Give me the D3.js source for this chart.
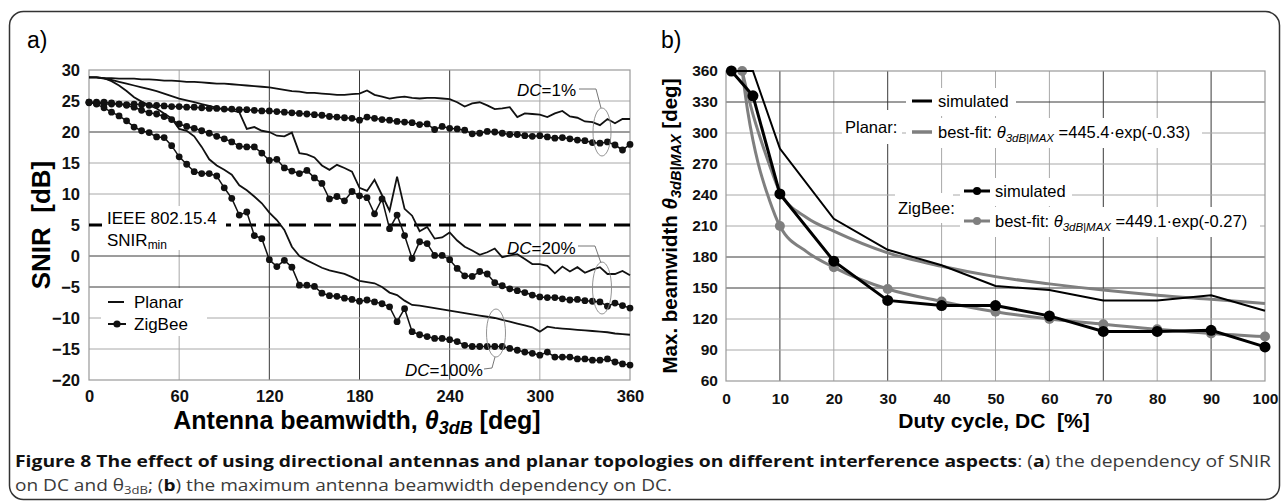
<!DOCTYPE html>
<html>
<head>
<meta charset="utf-8">
<script src="https://cdn.jsdelivr.net/npm/d3@7"></script>
<style>
  html, body { margin: 0; padding: 0; background: #fff; }
  svg { display: block; font-family: "Liberation Sans", Arial, sans-serif; }
</style>
</head>
<body>
<div id="chart"></div>
<script>
// ---- panel a data: SNIR [dB] vs antenna beamwidth [deg]
const beamwidth = [0,5,10,15,20,25,30,35,40,45,50,55,60,65,70,75,80,85,90,95,100,105,110,115,
  120,125,130,135,140,145,150,155,160,165,170,175,180,185,190,195,200,205,210,215,220,225,230,235,
  240,245,250,255,260,265,270,275,280,285,290,295,300,305,310,315,320,325,330,335,340,345,350,355,360];

const planar1 = [28.8,28.8,28.7,28.7,28.6,28.6,28.6,28.5,28.5,28.4,28.3,28.3,
  28.2,28.1,28.1,28.0,27.9,27.8,27.8,27.7,27.6,27.5,27.4,27.3,
  27.2,27.0,26.8,26.6,26.5,26.3,26.3,26.2,26.1,26.0,26.0,26.1,
  26.2,26.7,26.0,25.7,25.4,25.6,25.7,25.5,25.4,25.5,25.5,25.4,
  25.3,24.8,24.1,24.6,24.8,24.3,23.7,23.8,24.0,22.4,23.0,22.9,
  22.8,22.4,23.0,23.4,22.5,22.3,21.7,21.6,21.1,22.1,21.4,22.1,22.1];

const zigbee1 = [24.7,24.6,24.5,24.5,24.5,24.4,24.5,24.4,24.3,24.3,24.2,24.1,
  24.1,24.0,24.0,23.9,23.8,23.8,23.7,23.7,23.6,23.6,23.5,23.4,
  23.4,23.3,23.2,23.1,23.0,22.9,22.8,22.7,22.5,22.4,22.3,22.2,
  21.9,22.4,22.2,22.0,21.9,21.7,21.6,21.5,21.2,21.3,20.4,20.9,
  20.6,20.5,20.3,19.7,19.8,20.1,20.0,19.8,19.6,19.6,19.4,19.3,
  19.4,19.2,19.0,19.1,18.9,18.7,18.6,18.3,18.2,18.4,17.9,17.1,18.0];

const planar20 = [28.8,28.8,28.6,28.4,28.1,27.8,27.5,27.2,26.9,26.6,26.2,25.8,
  25.4,25.1,24.8,24.5,24.2,23.9,23.7,23.5,23.2,20.5,20.8,20.2,
  20.0,19.4,19.3,19.9,16.6,16.4,15.9,14.6,13.9,14.7,14.2,13.6,
  11.0,10.5,12.3,9.8,7.3,12.8,7.6,6.5,4.0,4.7,2.8,3.0,
  3.8,2.5,1.5,0.9,0.2,0.6,1.2,-0.2,0.1,0.3,-0.5,-1.3,
  -1.3,-1.6,-2.8,-1.7,-2.5,-1.8,-2.7,-2.2,-1.8,-2.9,-2.9,-2.4,-3.1];

const zigbee20 = [24.8,24.8,24.8,24.7,24.5,24.3,24.0,23.5,23.1,22.9,22.5,22.0,
  21.3,20.9,20.6,20.2,19.8,19.3,18.9,18.4,17.7,17.6,17.6,16.6,
  15.4,15.6,14.2,13.7,13.3,13.8,12.6,11.7,9.2,9.6,8.9,10.4,
  9.7,9.4,6.8,9.2,4.4,6.6,3.3,-0.4,2.3,2.0,0.1,0.1,
  -0.6,-2.0,-3.2,-3.3,-2.5,-2.9,-4.3,-4.8,-5.3,-5.6,-5.9,-6.3,
  -6.6,-6.7,-6.7,-6.9,-7.1,-7.0,-7.2,-7.3,-7.4,-8.1,-7.6,-8.0,-8.4];

const planar100 = [28.8,28.8,28.7,28.2,27.5,26.6,25.6,24.9,24.3,23.8,23.0,22.2,
  20.5,20.2,19.3,17.6,15.6,14.6,13.9,13.1,11.4,10.6,9.6,8.5,
  7.0,5.8,4.2,1.5,0.0,-0.7,-1.3,-1.9,-2.3,-2.6,-2.9,-3.4,
  -4.0,-4.2,-4.4,-5.0,-5.9,-6.3,-7.2,-7.9,-8.0,-8.2,-8.4,-8.6,
  -8.8,-9.0,-9.2,-9.4,-9.6,-9.8,-10.0,-10.3,-10.6,-10.9,-11.2,-11.5,
  -12.2,-11.4,-11.6,-11.7,-11.8,-11.9,-12.0,-12.1,-12.2,-12.3,-12.5,-12.6,-12.7];

const zigbee100 = [24.8,24.5,23.9,23.2,22.6,21.8,20.8,20.2,19.9,19.2,19.1,17.8,
  16.0,14.8,13.6,13.3,13.3,12.9,11.0,9.3,6.6,7.1,3.3,2.8,
  -0.6,-1.7,-0.7,-1.8,-4.7,-4.7,-4.9,-6.0,-6.4,-6.5,-6.8,-7.0,
  -7.3,-7.1,-7.4,-7.7,-8.2,-10.6,-8.5,-12.2,-12.7,-13.0,-13.3,-13.3,
  -13.5,-13.8,-14.4,-14.6,-14.6,-14.6,-14.6,-14.6,-14.9,-15.2,-15.5,-15.7,
  -16.0,-15.5,-16.3,-16.3,-16.3,-16.6,-16.6,-16.8,-16.8,-16.6,-17.1,-17.4,-17.6];

const snirTicks = [30,25,20,15,10,5,0,-5,-10,-15,-20];
const beamTicks = [0,60,120,180,240,300,360];
const snirMin = 5;

// ---- panel b data: max beamwidth [deg] vs duty cycle [%]
const dutyCycle = [1,5,10,20,30,40,50,60,70,80,90,100];
const planarSim = [360,360,285,217,187,172,152,148,138,138,143,128];
const zigbeeSim = [360,336,241,176,138,133,133,123,108,108,109,93];

const fitDC = [3,4,5,6,8,10,15,20,30,40,50,60,70,80,90,100];
const planarFit = [360,338,318,301,270,243,218,205,184,171,161,154,148,143,139,135];
const zigbeeFit = [360,322,293,270,236,210,185,170,149,137,127,120,115,110,106,103];
const zigbeeFitMarkDC = [3,10,20,30,40,50,60,70,80,90,100];

const beamMaxTicks = [360,330,300,270,240,210,180,150,120,90,60];
const dcTicks = [0,10,20,30,40,50,60,70,80,90,100];

const W = 1285, H = 504;
const FONT = '"Liberation Sans", Arial, sans-serif';
const GRID_DARK = '#3a3a3a', GRID_LIGHT = '#a8a8a8';

const svg = d3.select('#chart').append('svg')
    .attr('width', W).attr('height', H);

// outer frame
svg.append('rect')
    .attr('x', 9.5).attr('y', 11.5).attr('width', 1270).attr('height', 488)
    .attr('rx', 14).attr('fill', 'none').attr('stroke', '#333').attr('stroke-width', 1.5);

// helper: theta with subscript
function addTheta(text, sub, subSize, dy) {
    text.append('tspan').attr('font-style', 'italic').text('θ');
    text.append('tspan').attr('font-style', 'italic').attr('font-size', subSize)
        .attr('dy', dy).text(sub);
    return text.append('tspan').attr('dy', -dy);
}

// ================= panel a =================
const a = { left: 89, top: 70, right: 630, bottom: 380 };
const xA = d3.scaleLinear().domain([0, 360]).range([a.left, a.right]);
const yA = d3.scaleLinear().domain([-20, 30]).range([a.bottom, a.top]);
const gA = svg.append('g');

gA.append('text').attr('x', 27).attr('y', 48).attr('font-size', 23).text('a)');

// grid
const darkBeam = new Set([120, 180, 240]);
gA.selectAll('.vgrid').data(beamTicks.filter(d => d > 0 && d < 360)).join('line')
    .attr('x1', d => xA(d)).attr('x2', d => xA(d))
    .attr('y1', a.top).attr('y2', a.bottom)
    .attr('stroke', d => darkBeam.has(d) ? GRID_DARK : GRID_LIGHT).attr('stroke-width', 1);
const darkSnir = new Set([20, 0, -5]);
gA.selectAll('.hgrid').data(snirTicks.filter(d => d > -20 && d < 30 && d !== snirMin)).join('line')
    .attr('x1', a.left).attr('x2', a.right)
    .attr('y1', d => yA(d)).attr('y2', d => yA(d))
    .attr('stroke', d => darkSnir.has(d) ? GRID_DARK : GRID_LIGHT).attr('stroke-width', 1);
gA.append('rect').attr('x', a.left).attr('y', a.top)
    .attr('width', a.right - a.left).attr('height', a.bottom - a.top)
    .attr('fill', 'none').attr('stroke', '#999').attr('stroke-width', 1.2);

// SNIR min threshold
gA.append('line')
    .attr('x1', a.left).attr('x2', a.right)
    .attr('y1', yA(snirMin)).attr('y2', yA(snirMin))
    .attr('stroke', '#000').attr('stroke-width', 3).attr('stroke-dasharray', '17 8');

// white boxes behind labels
gA.append('rect').attr('x', 102).attr('y', 206).attr('width', 124).attr('height', 44).attr('fill', '#fff');
gA.append('rect').attr('x', 101).attr('y', 288).attr('width', 106).attr('height', 48).attr('fill', '#fff');

// series
const lineA = d3.line().x((d, i) => xA(beamwidth[i])).y(d => yA(d));
[planar1, planar20, planar100].forEach(s => {
    gA.append('path').datum(s).attr('d', lineA)
        .attr('fill', 'none').attr('stroke', '#111').attr('stroke-width', 1.8);
});
[zigbee1, zigbee20, zigbee100].forEach(s => {
    gA.append('path').datum(s).attr('d', lineA)
        .attr('fill', 'none').attr('stroke', '#111').attr('stroke-width', 1.5);
    gA.append('g').selectAll('circle').data(s).join('circle')
        .attr('cx', (d, i) => xA(beamwidth[i])).attr('cy', d => yA(d))
        .attr('r', 3.4).attr('fill', '#111');
});

// axes
const axLA = gA.append('g').attr('transform', `translate(${a.left},0)`)
    .call(d3.axisLeft(yA).tickValues(snirTicks).tickSize(0).tickPadding(9));
const axBA = gA.append('g').attr('transform', `translate(0,${a.bottom})`)
    .call(d3.axisBottom(xA).tickValues(beamTicks).tickSize(0).tickPadding(10));
[axLA, axBA].forEach(ax => {
    ax.select('.domain').remove();
    ax.selectAll('text').attr('font-family', FONT).attr('font-size', 16.5)
        .attr('font-weight', 'bold').attr('fill', '#111');
});

// axis titles
gA.append('text')
    .attr('transform', `translate(50,${(a.top + a.bottom) / 2}) rotate(-90)`)
    .attr('text-anchor', 'middle').attr('font-size', 26).attr('font-weight', 'bold')
    .text('SNIR\u00a0\u00a0[dB]');
const xtA = gA.append('text').attr('x', 357).attr('y', 429)
    .attr('text-anchor', 'middle').attr('font-size', 25).attr('font-weight', 'bold');
xtA.append('tspan').text('Antenna beamwidth, ');
addTheta(xtA, '3dB', 18, 5).text(' [deg]');

// threshold label
gA.append('text').attr('x', 107).attr('y', 224).attr('font-size', 17).text('IEEE 802.15.4');
const snirLbl = gA.append('text').attr('x', 107).attr('y', 246).attr('font-size', 17);
snirLbl.append('tspan').text('SNIR');
snirLbl.append('tspan').attr('font-size', 12).attr('dy', 3).text('min');

// legend
gA.append('line').attr('x1', 108).attr('x2', 124).attr('y1', 302).attr('y2', 302)
    .attr('stroke', '#111').attr('stroke-width', 2);
gA.append('text').attr('x', 134).attr('y', 308).attr('font-size', 17).text('Planar');
gA.append('line').attr('x1', 108).attr('x2', 126).attr('y1', 324).attr('y2', 324)
    .attr('stroke', '#111').attr('stroke-width', 2);
gA.append('circle').attr('cx', 117).attr('cy', 324).attr('r', 3.6).attr('fill', '#111');
gA.append('text').attr('x', 134).attr('y', 330).attr('font-size', 17).text('ZigBee');

// DC annotations
function dcNote(label, tx, ty, path, ell) {
    const t = gA.append('text').attr('x', tx).attr('y', ty).attr('font-size', 17);
    t.append('tspan').attr('font-style', 'italic').text('DC');
    t.append('tspan').text(label);
    gA.append('path').attr('d', path).attr('fill', 'none').attr('stroke', '#666').attr('stroke-width', 0.9);
    gA.append('ellipse').attr('cx', ell[0]).attr('cy', ell[1]).attr('rx', ell[2]).attr('ry', ell[3])
        .attr('fill', 'none').attr('stroke', '#888').attr('stroke-width', 0.9);
}
dcNote('=1%', 517, 96, 'M579,89 L596,89 L601,108', [602, 132, 9, 24]);
dcNote('=20%', 507, 254, 'M578,246 L595,246 L601,263', [602, 288, 9.5, 26]);
dcNote('=100%', 405, 376, 'M484,369 L492,368 L495,357', [496, 333, 9.5, 24]);

// ================= panel b =================
const b = { left: 726, top: 71, right: 1265, bottom: 381 };
const xB = d3.scaleLinear().domain([0, 100]).range([b.left, b.right]);
const yB = d3.scaleLinear().domain([60, 360]).range([b.bottom, b.top]);
const gB = svg.append('g');

gB.append('text').attr('x', 661).attr('y', 48).attr('font-size', 23).text('b)');

const darkDC = new Set([10, 30, 70, 90]);
gB.selectAll('.vgrid').data(dcTicks.filter(d => d > 0 && d < 100)).join('line')
    .attr('x1', d => xB(d)).attr('x2', d => xB(d))
    .attr('y1', b.top).attr('y2', b.bottom)
    .attr('stroke', d => darkDC.has(d) ? GRID_DARK : GRID_LIGHT).attr('stroke-width', 1);
const darkBM = new Set([330, 180, 150]);
gB.selectAll('.hgrid').data(beamMaxTicks.filter(d => d > 60 && d < 360)).join('line')
    .attr('x1', b.left).attr('x2', b.right)
    .attr('y1', d => yB(d)).attr('y2', d => yB(d))
    .attr('stroke', d => darkBM.has(d) ? GRID_DARK : GRID_LIGHT).attr('stroke-width', 1);
gB.append('rect').attr('x', b.left).attr('y', b.top)
    .attr('width', b.right - b.left).attr('height', b.bottom - b.top)
    .attr('fill', 'none').attr('stroke', '#999').attr('stroke-width', 1.2);

// legend backgrounds
gB.append('rect').attr('x', 842).attr('y', 110).attr('width', 60).attr('height', 34).attr('fill', '#fff');
gB.append('rect').attr('x', 906).attr('y', 88).attr('width', 110).attr('height', 28).attr('fill', '#fff');
gB.append('rect').attr('x', 906).attr('y', 118).attr('width', 296).attr('height', 30).attr('fill', '#fff');
gB.append('rect').attr('x', 895).attr('y', 193).attr('width', 58).attr('height', 30).attr('fill', '#fff');
gB.append('rect').attr('x', 960).attr('y', 178).attr('width', 112).attr('height', 28).attr('fill', '#fff');
gB.append('rect').attr('x', 960).attr('y', 207).attr('width', 300).attr('height', 30).attr('fill', '#fff');

const lineB = d3.line().x(d => xB(d[0])).y(d => yB(d[1]));
const smoothB = d3.line().x(d => xB(d[0])).y(d => yB(d[1])).curve(d3.curveMonotoneX);
const GREY = '#7f7f7f';

gB.append('path').datum(fitDC.map((d, i) => [d, planarFit[i]])).attr('d', smoothB)
    .attr('fill', 'none').attr('stroke', GREY).attr('stroke-width', 3);
gB.append('path').datum(fitDC.map((d, i) => [d, zigbeeFit[i]])).attr('d', smoothB)
    .attr('fill', 'none').attr('stroke', GREY).attr('stroke-width', 3);
gB.append('g').selectAll('circle')
    .data(fitDC.map((d, i) => [d, zigbeeFit[i]]).filter(p => zigbeeFitMarkDC.includes(p[0])))
    .join('circle').attr('cx', d => xB(d[0])).attr('cy', d => yB(d[1]))
    .attr('r', 5).attr('fill', GREY);

gB.append('path').datum(dutyCycle.map((d, i) => [d, planarSim[i]])).attr('d', lineB)
    .attr('fill', 'none').attr('stroke', '#000').attr('stroke-width', 2);
gB.append('path').datum(dutyCycle.map((d, i) => [d, zigbeeSim[i]])).attr('d', lineB)
    .attr('fill', 'none').attr('stroke', '#000').attr('stroke-width', 3);
gB.append('g').selectAll('circle')
    .data(dutyCycle.map((d, i) => [d, zigbeeSim[i]]))
    .join('circle').attr('cx', d => xB(d[0])).attr('cy', d => yB(d[1]))
    .attr('r', 5.5).attr('fill', '#000');

const axLB = gB.append('g').attr('transform', `translate(${b.left},0)`)
    .call(d3.axisLeft(yB).tickValues(beamMaxTicks).tickSize(0).tickPadding(8));
const axBB = gB.append('g').attr('transform', `translate(0,${b.bottom})`)
    .call(d3.axisBottom(xB).tickValues(dcTicks).tickSize(0).tickPadding(12));
[axLB, axBB].forEach(ax => {
    ax.select('.domain').remove();
    ax.selectAll('text').attr('font-family', FONT).attr('font-size', 15.5)
        .attr('font-weight', 'bold').attr('fill', '#111');
});

const ytB = gB.append('text')
    .attr('transform', `translate(677,${(b.top + b.bottom) / 2}) rotate(-90)`)
    .attr('text-anchor', 'middle').attr('font-size', 20.5).attr('font-weight', 'bold');
ytB.append('tspan').text('Max. beamwidth ');
addTheta(ytB, '3dB|MAX', 14.5, 4).text(' [deg]');

gB.append('text').attr('x', 994).attr('y', 428)
    .attr('text-anchor', 'middle').attr('font-size', 21).attr('font-weight', 'bold')
    .text('Duty cycle, DC\u00a0\u00a0[%]');

// legend b
gB.append('text').attr('x', 845).attr('y', 133).attr('font-size', 16.5).text('Planar:');
gB.append('line').attr('x1', 912).attr('x2', 932).attr('y1', 101).attr('y2', 101)
    .attr('stroke', '#000').attr('stroke-width', 3);
gB.append('text').attr('x', 938).attr('y', 107).attr('font-size', 16.5).text('simulated');
gB.append('line').attr('x1', 912).attr('x2', 932).attr('y1', 132).attr('y2', 132)
    .attr('stroke', GREY).attr('stroke-width', 3.5);
const bf1 = gB.append('text').attr('x', 938).attr('y', 138).attr('font-size', 16.5);
bf1.append('tspan').text('best-fit: ');
addTheta(bf1, '3dB|MAX', 11.5, 4).text(' =445.4·exp(-0.33)');

gB.append('text').attr('x', 898).attr('y', 214).attr('font-size', 16.5).text('ZigBee:');
gB.append('line').attr('x1', 964).attr('x2', 990).attr('y1', 191).attr('y2', 191)
    .attr('stroke', '#000').attr('stroke-width', 3);
gB.append('circle').attr('cx', 977).attr('cy', 191).attr('r', 4).attr('fill', '#000');
gB.append('text').attr('x', 995).attr('y', 197).attr('font-size', 16.5).text('simulated');
gB.append('line').attr('x1', 964).attr('x2', 990).attr('y1', 221).attr('y2', 221)
    .attr('stroke', GREY).attr('stroke-width', 3);
gB.append('circle').attr('cx', 977).attr('cy', 221).attr('r', 4).attr('fill', GREY);
const bf2 = gB.append('text').attr('x', 995).attr('y', 227).attr('font-size', 16.5);
bf2.append('tspan').text('best-fit: ');
addTheta(bf2, '3dB|MAX', 11.5, 4).text(' =449.1·exp(-0.27)');

// ================= caption =================
const cap = svg.append('g').attr('font-family', '"Open Sans", "Noto Sans", sans-serif')
    .attr('font-size', 16.8).attr('fill', '#3a3a3a');
const c1 = cap.append('text').attr('x', 15).attr('y', 467)
    .attr('textLength', 1256).attr('lengthAdjust', 'spacingAndGlyphs');
c1.append('tspan').attr('font-weight', 'bold').attr('fill', '#111')
    .text('Figure 8 The effect of using directional antennas and planar topologies on different interference aspects');
c1.append('tspan').text(': (');
c1.append('tspan').attr('font-weight', 'bold').attr('fill', '#111').text('a');
c1.append('tspan').text(') the dependency of SNIR');
const c2 = cap.append('text').attr('x', 15).attr('y', 491)
    .attr('textLength', 657).attr('lengthAdjust', 'spacingAndGlyphs');
c2.append('tspan').text('on DC and θ');
c2.append('tspan').attr('font-size', 11.5).attr('dy', 3).text('3dB');
c2.append('tspan').attr('dy', -3).text('; (');
c2.append('tspan').attr('font-weight', 'bold').attr('fill', '#111').text('b');
c2.append('tspan').text(') the maximum antenna beamwidth dependency on DC.');
</script>
</body>
</html>
